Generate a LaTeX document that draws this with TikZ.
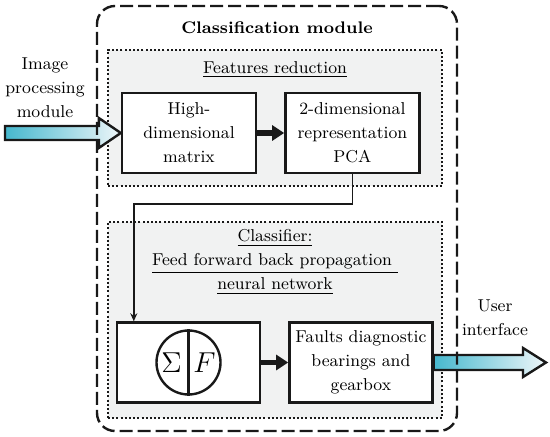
\documentclass[tikz,border=0pt]{standalone}
\usetikzlibrary{arrows.meta,positioning,calc}
\definecolor{Frame}{RGB}{25,25,25}
\definecolor{PipeL}{RGB}{70,184,206}
\definecolor{PipeR}{RGB}{238,246,249}
\definecolor{Group}{RGB}{241,242,242}
\tikzset{
  cbase/.style={align=center,font=\fontsize{8.6}{12}\selectfont,inner sep=1pt},
  cbox/.style={cbase,draw=Frame,line width=1.2pt,fill=white,minimum width=67pt,minimum height=40pt},
  cwide/.style={cbox,minimum width=71.5pt,minimum height=40pt},
  cgroup/.style={draw=Frame,line width=1.1pt,dash pattern=on 1pt off 1.1pt,fill=Group,minimum width=167pt},
  cmodule/.style={draw=Frame,line width=1.2pt,dash pattern=on 6.5pt off 2.5pt,rounded corners=9pt,minimum width=180pt,minimum height=212.5pt},
  carr/.style={-{Triangle[length=6pt,width=7.5pt]},line width=2.6pt,draw=Frame},
  cflow/.style={-{Stealth[length=4pt,width=3.5pt]},line width=0.8pt,draw=Frame},
  cpipe/.style={draw=Frame,line width=1.2pt,left color=PipeL,right color=PipeR,line join=miter},
  clab/.style={cbase},
  cneuron/.style={circle,draw=Frame,line width=1.2pt,minimum size=32pt,inner sep=0pt},
  csym/.style={font=\fontsize{15}{16}\selectfont,inner sep=0pt}
}
\begin{document}
\begin{tikzpicture}[x=0.5pt,y=-0.5pt,node distance=17.5pt and 13.5pt]
\useasboundingbox (0,0) rectangle (550,437);
\node[cgroup,minimum height=68pt] (reduce) at (275,118) {};
\node[cgroup,minimum height=98pt] (classify) at (275,320) {};
\node[clab] (redtit) at (275,70) {\underline{Features reduction}};
\node[clab] (clstit) at (275,262) {\underline{Classifier:}\\ \underline{Feed forward back propagation\ }\\ \underline{neural network}};
\node[cbox] (high) at (189,133) {High-\\dimensional\\matrix};
\node[cbox, right=of high] (pca) {2-dimensional\\representation\\PCA};
\node[cwide] (sigbox) at (188.5,362.5) {};
\node[cwide, right=of sigbox] (diag) {Faults diagnostic\\bearings and\\gearbox};
\node[cneuron] (neuron) at (sigbox.center) {};
\node[csym] (sig) at ([xshift=-8.5pt]neuron.center) {$\Sigma$};
\node[csym] (act) at ([xshift=8pt]neuron.center) {$F$};
\draw[line width=1.2pt,draw=Frame] (neuron.north) -- (neuron.south);
\draw[carr] (high) -- (pca);
\draw[carr] (sigbox) -- (diag);
\draw[cflow] (pca.south) -- ++(0,30) -| ([xshift=9pt]sigbox.north west);
\node[clab] (imgproc) at (45,88) {Image\\processing\\module};
\node[clab] (usrif) at (495,318) {User\\interface};
\coordinate (imgin) at (5,133);
\coordinate (usrout) at (546,362.5);
\path[cpipe] ($(imgin)+(0,-7)$) -- ($(high.west)+(-22,-7)$) -- ($(high.west)+(-22,-15)$) -- (high.west)
  -- ($(high.west)+(-22,15)$) -- ($(high.west)+(-22,7)$) -- ($(imgin)+(0,7)$) -- cycle;
\path[cpipe] ($(diag.east)+(0,-7.5)$) -- ($(usrout)+(-23,-7.5)$) -- ($(usrout)+(-23,-14.5)$) -- (usrout)
  -- ($(usrout)+(-23,14.5)$) -- ($(usrout)+(-23,7.5)$) -- ($(diag.east)+(0,7.5)$) -- cycle;
\node[cmodule] (clsmod) at (277,218.5) {};
\node[clab,font=\fontsize{8.4}{12}\selectfont\bfseries] (modtit) at (277,28) {Classification module};
\end{tikzpicture}
\end{document}
